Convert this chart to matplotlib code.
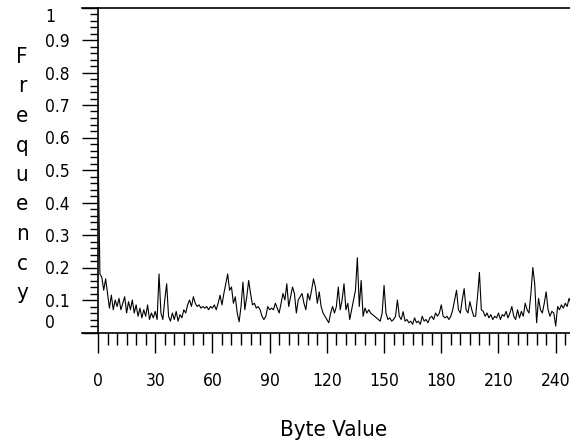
import matplotlib
matplotlib.use("Agg")
import matplotlib.pyplot as plt
from matplotlib.ticker import MultipleLocator

plt.rcParams['font.family'] = ['DejaVu Sans']
plt.rcParams['font.stretch'] = 'condensed'

# frequency of each byte value (0..248 visible)
freq = [
    0.58, 0.18, 0.17, 0.13, 0.165, 0.12, 0.075, 0.115, 0.07, 0.10,
    0.08, 0.105, 0.07, 0.09, 0.11, 0.06, 0.095, 0.07, 0.10, 0.06,
    0.085, 0.05, 0.075, 0.045, 0.07, 0.05, 0.085, 0.04, 0.06, 0.045,
    0.065, 0.04, 0.18, 0.06, 0.04, 0.10, 0.15, 0.05, 0.035, 0.06,
    0.04, 0.065, 0.035, 0.055, 0.045, 0.07, 0.06, 0.085, 0.10, 0.08,
    0.11, 0.09, 0.08, 0.085, 0.075, 0.08, 0.075, 0.08, 0.07, 0.08,
    0.075, 0.085, 0.07, 0.09, 0.115, 0.085, 0.12, 0.15, 0.18, 0.13,
    0.14, 0.09, 0.11, 0.06, 0.033, 0.08, 0.155, 0.07, 0.11, 0.16,
    0.12, 0.085, 0.09, 0.075, 0.08, 0.07, 0.05, 0.04, 0.05, 0.08,
    0.07, 0.075, 0.07, 0.09, 0.075, 0.06, 0.09, 0.12, 0.10, 0.15,
    0.08, 0.11, 0.14, 0.12, 0.06, 0.10, 0.11, 0.12, 0.09, 0.07,
    0.12, 0.10, 0.13, 0.165, 0.14, 0.09, 0.125, 0.08, 0.06, 0.05,
    0.04, 0.03, 0.06, 0.08, 0.06, 0.08, 0.14, 0.07, 0.10, 0.15,
    0.07, 0.09, 0.04, 0.07, 0.10, 0.13, 0.23, 0.08, 0.16, 0.05,
    0.075, 0.06, 0.07, 0.06, 0.055, 0.05, 0.045, 0.04, 0.035, 0.06,
    0.145, 0.06, 0.04, 0.045, 0.035, 0.04, 0.05, 0.10, 0.05, 0.04,
    0.064, 0.035, 0.04, 0.03, 0.035, 0.025, 0.045, 0.03, 0.035, 0.025,
    0.05, 0.035, 0.04, 0.03, 0.045, 0.05, 0.04, 0.06, 0.05, 0.06,
    0.085, 0.05, 0.045, 0.05, 0.04, 0.05, 0.07, 0.10, 0.13, 0.07,
    0.06, 0.10, 0.135, 0.07, 0.06, 0.095, 0.07, 0.05, 0.05, 0.11,
    0.185, 0.07, 0.065, 0.05, 0.06, 0.045, 0.055, 0.04, 0.05, 0.045,
    0.06, 0.04, 0.055, 0.05, 0.065, 0.045, 0.06, 0.08, 0.05, 0.04,
    0.07, 0.045, 0.065, 0.05, 0.09, 0.07, 0.06, 0.12, 0.20, 0.15,
    0.03, 0.105, 0.07, 0.06, 0.09, 0.125, 0.07, 0.05, 0.065, 0.06,
    0.02, 0.08, 0.07, 0.085, 0.075, 0.09, 0.08, 0.105, 0.09,
]
byte_values = list(range(len(freq)))

x_ticks = [0, 30, 60, 90, 120, 150, 180, 210, 240]
y_ticks = [0, 0.1, 0.2, 0.3, 0.4, 0.5, 0.6, 0.7, 0.8, 0.9, 1]
y_tick_labels = ['0', '0.1', '0.2', '0.3', '0.4', '0.5', '0.6', '0.7', '0.8', '0.9', '1']

fig = plt.figure(figsize=(5.7, 4.47), dpi=100)
ax = fig.add_axes([98 / 570, (447 - 332.5) / 447, 472 / 570, 325 / 447])

ax.plot(byte_values, freq, color='black', linewidth=0.8)

ax.set_xlim(0, 247.5)
ax.set_ylim(0, 1)

ax.spines['right'].set_visible(False)
for s in ['left', 'top', 'bottom']:
	ax.spines[s].set_linewidth(1.2)

# top and bottom frame lines run past the y axis
ext = 16 / 472
ax.plot([-ext, 0], [1, 1], transform=ax.transAxes, color='black', lw=1.2, clip_on=False)
ax.plot([-ext, 0], [0, 0], transform=ax.transAxes, color='black', lw=1.2, clip_on=False)

ax.set_xticks(x_ticks)
ax.set_xticklabels([str(v) for v in x_ticks])
ax.xaxis.set_minor_locator(MultipleLocator(5))
ax.set_yticks(y_ticks)
ax.set_yticklabels(y_tick_labels)
ax.yaxis.set_minor_locator(MultipleLocator(0.02))

ax.tick_params(axis='x', which='major', direction='out', length=14.4, width=1.0, pad=14, labelsize=12.5)
ax.tick_params(axis='x', which='minor', direction='out', length=8.6, width=1.0)
ax.tick_params(axis='y', which='major', direction='out', length=11.5, width=1.0, pad=26.5, labelsize=12.5)
ax.tick_params(axis='y', which='minor', direction='out', length=5.8, width=1.0)

ylabels = ax.get_yticklabels()
for lab in ylabels:
	lab.set_horizontalalignment('left')
ylabels[0].set_verticalalignment('bottom')
ylabels[-1].set_verticalalignment('top')

ax.set_xlabel('Byte Value', fontsize=16, labelpad=22)

# vertical letter-by-letter y label
for i, ch in enumerate('Frequency'):
	fig.text(22 / 570, 1 - (57 + 29.5 * i) / 447, ch, fontsize=16, ha='center', va='center')

fig.savefig('out.png', dpi=100)
